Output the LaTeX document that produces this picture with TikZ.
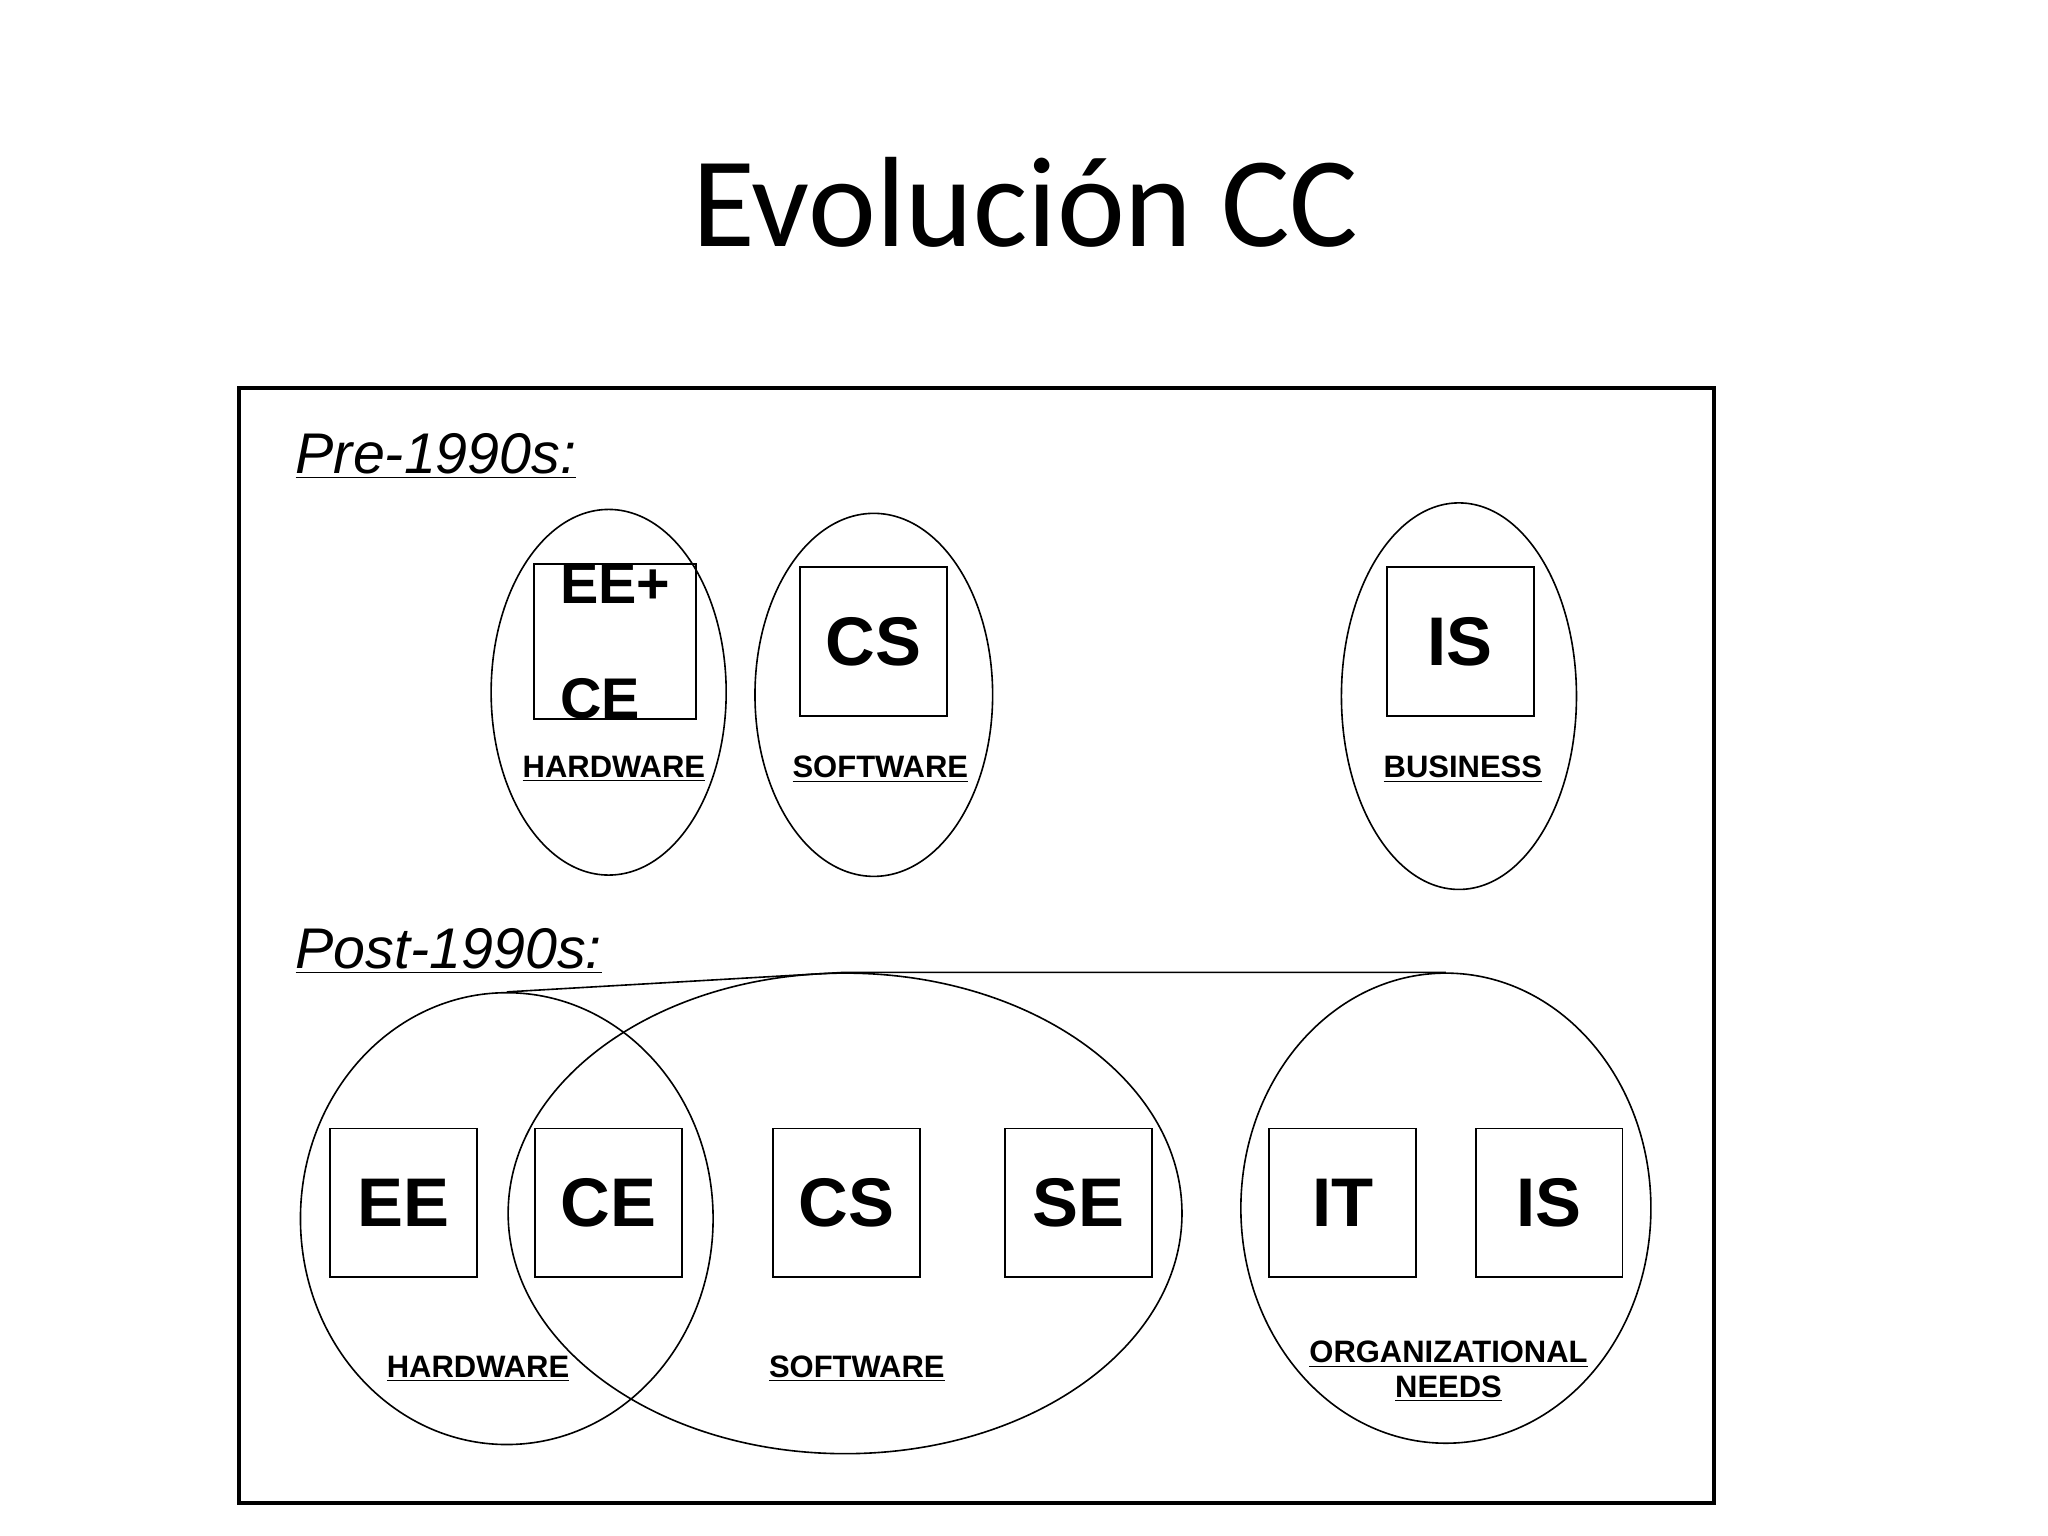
\documentclass[tikz,border=0pt]{standalone}
\usepackage{fontspec}
\setmainfont{Liberation Sans}
\newfontfamily\titlefont{Carlito}
\usetikzlibrary{shapes.geometric}
\begin{document}
\begin{tikzpicture}[x=0.02cm,y=-0.02cm,
  ell/.style={draw,ellipse,line width=0.7pt,inner sep=0pt},
  sq/.style={draw,line width=0.8pt,minimum width=2.25cm,minimum height=2.28cm,inner sep=0pt,font=\fontsize{30}{32}\selectfont\bfseries},
  lab/.style={font=\fontsize{13.5}{15}\selectfont\bfseries,align=center,inner sep=0pt},
  era/.style={font=\fontsize{25}{28}\selectfont\itshape,anchor=west,inner sep=0pt}]
\useasboundingbox (0,0) rectangle (1568,1176);
\node[font=\titlefont\fontsize{56}{60}\selectfont] (title) at (785,155) {Evolución CC};
\draw[line width=1.7pt] (183,297) rectangle (1312,1151);
\node[era] (pre) at (226,349) {\underline{Pre-1990s:}};
\node[era] (post) at (226,728) {\underline{Post-1990s:}};
% pre ellipses
\node[ell,minimum width=3.6cm,minimum height=5.6cm] (phw) at (466,530) {};
\node[ell,minimum width=3.64cm,minimum height=5.56cm] (psw) at (669,532) {};
\node[ell,minimum width=3.6cm,minimum height=5.92cm] (pbu) at (1117,533) {};
\node[sq,minimum width=2.48cm,align=left,font=\fontsize{25}{50}\selectfont\bfseries] (eece) at (471,491) {EE+\\CE};
\node[sq] (pcs) at (669,491) {CS};
\node[sq] (pis) at (1118,491) {IS};
\node[lab] (l1) at (470,589) {\underline{HARDWARE}};
\node[lab] (l2) at (674,589) {\underline{SOFTWARE}};
\node[lab] (l3) at (1120,589) {\underline{BUSINESS}};
% post ellipses
\node[ell,minimum width=6.32cm,minimum height=6.92cm] (hw) at (388,933) {};
\node[ell,minimum width=10.32cm,minimum height=7.36cm] (sw) at (647,929) {};
\node[ell,minimum width=6.28cm,minimum height=7.2cm] (org) at (1107,925) {};
\draw[line width=0.7pt] (hw.north) -- (sw.north) -- (org.north);
\node[sq] (ee) at (309,921) {EE};
\node[sq] (ce) at (466,921) {CE};
\node[sq] (cs) at (648,921) {CS};
\node[sq] (se) at (826,921) {SE};
\node[sq] (it) at (1028,921) {IT};
\node[sq] (is) at (1186,921) {IS};
\node[lab] (l4) at (366,1048) {\underline{HARDWARE}};
\node[lab] (l5) at (656,1048) {\underline{SOFTWARE}};
\node[lab] (l6) at (1109,1050) {\underline{ORGANIZATIONAL}\\\underline{NEEDS}};
\end{tikzpicture}
\end{document}
